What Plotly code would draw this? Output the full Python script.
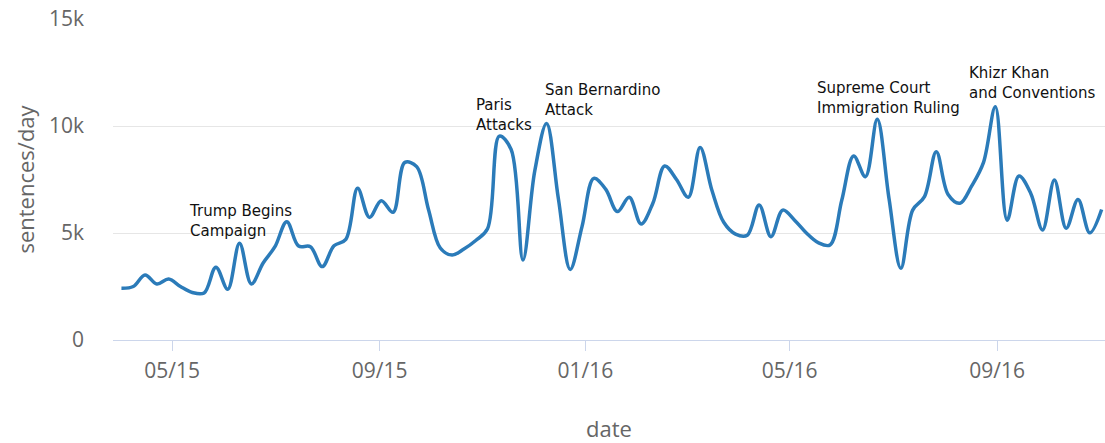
import pandas as pd
import plotly.graph_objects as go

# weekly series, starting 2015-04-01
start_date = "2015-04-01"
values = [2420, 2500, 3040, 2620, 2850, 2500, 2220, 2200, 3400, 2370,
          4520, 2620, 3600, 4360, 5530, 4390, 4360, 3430, 4400, 4700,
          7090, 5730, 6510, 5970, 8300, 8100, 6100, 4300, 3970, 4250,
          4650, 5200, 9530, 8900, 3740, 7900, 10120, 6600, 3300, 5300,
          7550, 7050, 6000, 6670, 5420, 6390, 8130, 7500, 6670, 9000,
          7000, 5500, 4950, 4900, 6310, 4830, 6070, 5600, 5000, 4550,
          4440, 6540, 8600, 7630, 10310, 6600, 3350, 6070, 6700, 8800,
          6800, 6390, 7200, 8300, 10900, 5600, 7660, 6850, 5140, 7480,
          5220, 6570, 5010, 6100]
dates = pd.date_range(start_date, periods=len(values), freq="7D")

ann_texts = ["Trump Begins<br>Campaign", "Paris<br>Attacks", "San Bernardino<br>Attack",
             "Supreme Court<br>Immigration Ruling", "Khizr Khan<br>and Conventions"]
ann_dates = ["2015-05-10", "2015-10-27", "2015-12-07", "2016-05-16", "2016-08-14"]
ann_values = [5540, 10510, 11210, 11330, 12030]

y_tickvals = [0, 5000, 10000, 15000]
y_ticktext = ["0", "5k", "10k", "15k"]

fig = go.Figure()
fig.add_trace(go.Scatter(
    x=dates, y=values, mode="lines",
    line=dict(color="#2b7bb9", width=3.5, shape="spline", smoothing=1.0),
    showlegend=False, hoverinfo="skip"))

for t, d, v in zip(ann_texts, ann_dates, ann_values):
    fig.add_annotation(x=d, y=v, xref="x", yref="y", text=t, showarrow=False,
                       xanchor="left", yanchor="middle", align="left",
                       font=dict(family="DejaVu Sans", size=15, color="#111111"))

axis_font = dict(family="Open Sans", size=21, color="#666666")
fig.update_layout(
    width=1105, height=443,
    margin=dict(l=113, r=0, t=19, b=103),
    plot_bgcolor="white", paper_bgcolor="white",
    xaxis=dict(
        range=["2015-03-27", "2016-11-04"],
        tick0="2015-01-01", dtick="M4", tickformat="%m/%y",
        showgrid=False, zeroline=False,
        showline=True, linecolor="#ccd6eb", linewidth=1,
        ticks="outside", ticklen=10, tickcolor="#ccd6eb",
        tickfont=axis_font, ticklabelstandoff=2,
        title=dict(text="date", font=dict(family="Open Sans", size=22, color="#666666"), standoff=40),
        automargin=False,
    ),
    yaxis=dict(
        range=[0, 15000], tickvals=y_tickvals, ticktext=y_ticktext,
        showgrid=True, gridcolor="#e6e6e6", gridwidth=1,
        zeroline=False, showline=False, ticks="",
        tickfont=axis_font, ticklabelstandoff=28,
        title=dict(text="sentences/day", font=dict(family="Open Sans", size=22, color="#666666"), standoff=8),
        automargin=False,
    ),
)

fig.write_html("out.html", config={"displayModeBar": False},
               post_script="document.body.style.margin='0';")
